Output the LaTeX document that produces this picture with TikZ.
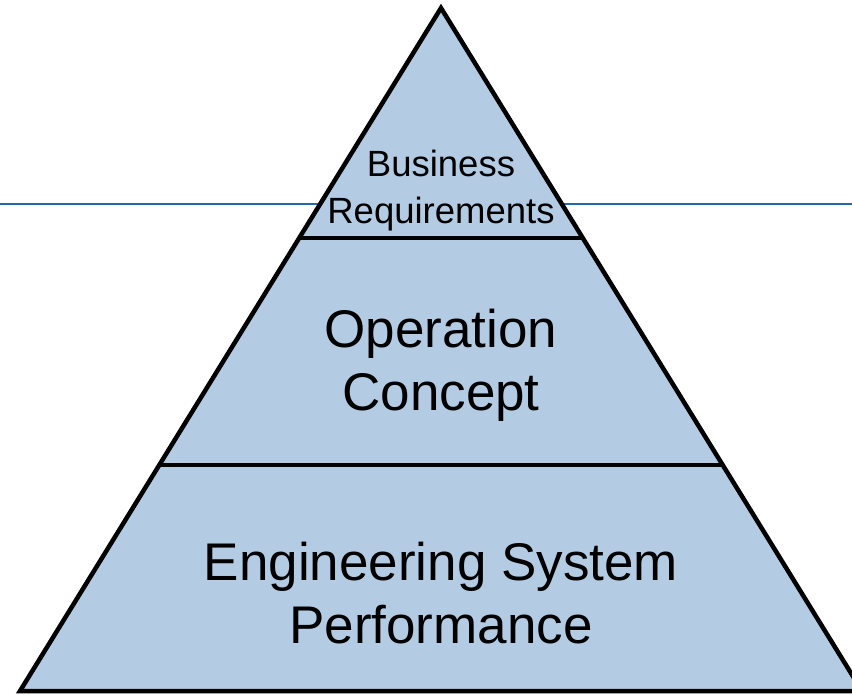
\documentclass[tikz,border=0pt]{standalone}
\usepackage{fontspec}
\setmainfont{Liberation Sans}
\usetikzlibrary{calc}
\definecolor{layerfill}{RGB}{179,204,228}
\definecolor{rulerblue}{RGB}{36,104,168}
\tikzset{
  layer/.style={fill=layerfill, draw=black, line width=4.5pt, line join=miter},
  divider/.style={draw=black, line width=4.5pt},
  bigtext/.style={align=center, anchor=base, inner sep=0pt, font=\fontsize{53}{63}\selectfont},
  smalltext/.style={align=center, anchor=base, inner sep=0pt, font=\fontsize{36.5}{47}\selectfont},
  ruler/.style={draw=rulerblue, line width=1.8pt}
}
\begin{document}
\begin{tikzpicture}[x=1pt, y=-1pt]
\useasboundingbox (0,0) rectangle (852,695);
% horizontal blue line behind the pyramid
\coordinate (rl) at (0,204);
\coordinate (rr) at (852,204);
\draw[ruler] (rl) -- (rr);
% pyramid
\coordinate (apex) at (441,8);
\coordinate (bl) at (20,691);
\coordinate (br) at (862,691);
\draw[layer] (apex) -- (bl) -- (br) -- cycle;
% dividers
\coordinate (d1l) at ($(apex)!0.3367!(bl)$);
\coordinate (d1r) at ($(apex)!0.3367!(br)$);
\coordinate (d2l) at ($(apex)!0.6691!(bl)$);
\coordinate (d2r) at ($(apex)!0.6691!(br)$);
\draw[divider] (d1l) -- (d1r);
\draw[divider] (d2l) -- (d2r);
% labels
\node[smalltext] (biz) at (441,224) {Business\\Requirements};
\node[bigtext] (ops) at (441,410) {Operation\\Concept};
\node[bigtext] (eng) at (441,643) {Engineering System\\Performance};
\end{tikzpicture}
\end{document}
